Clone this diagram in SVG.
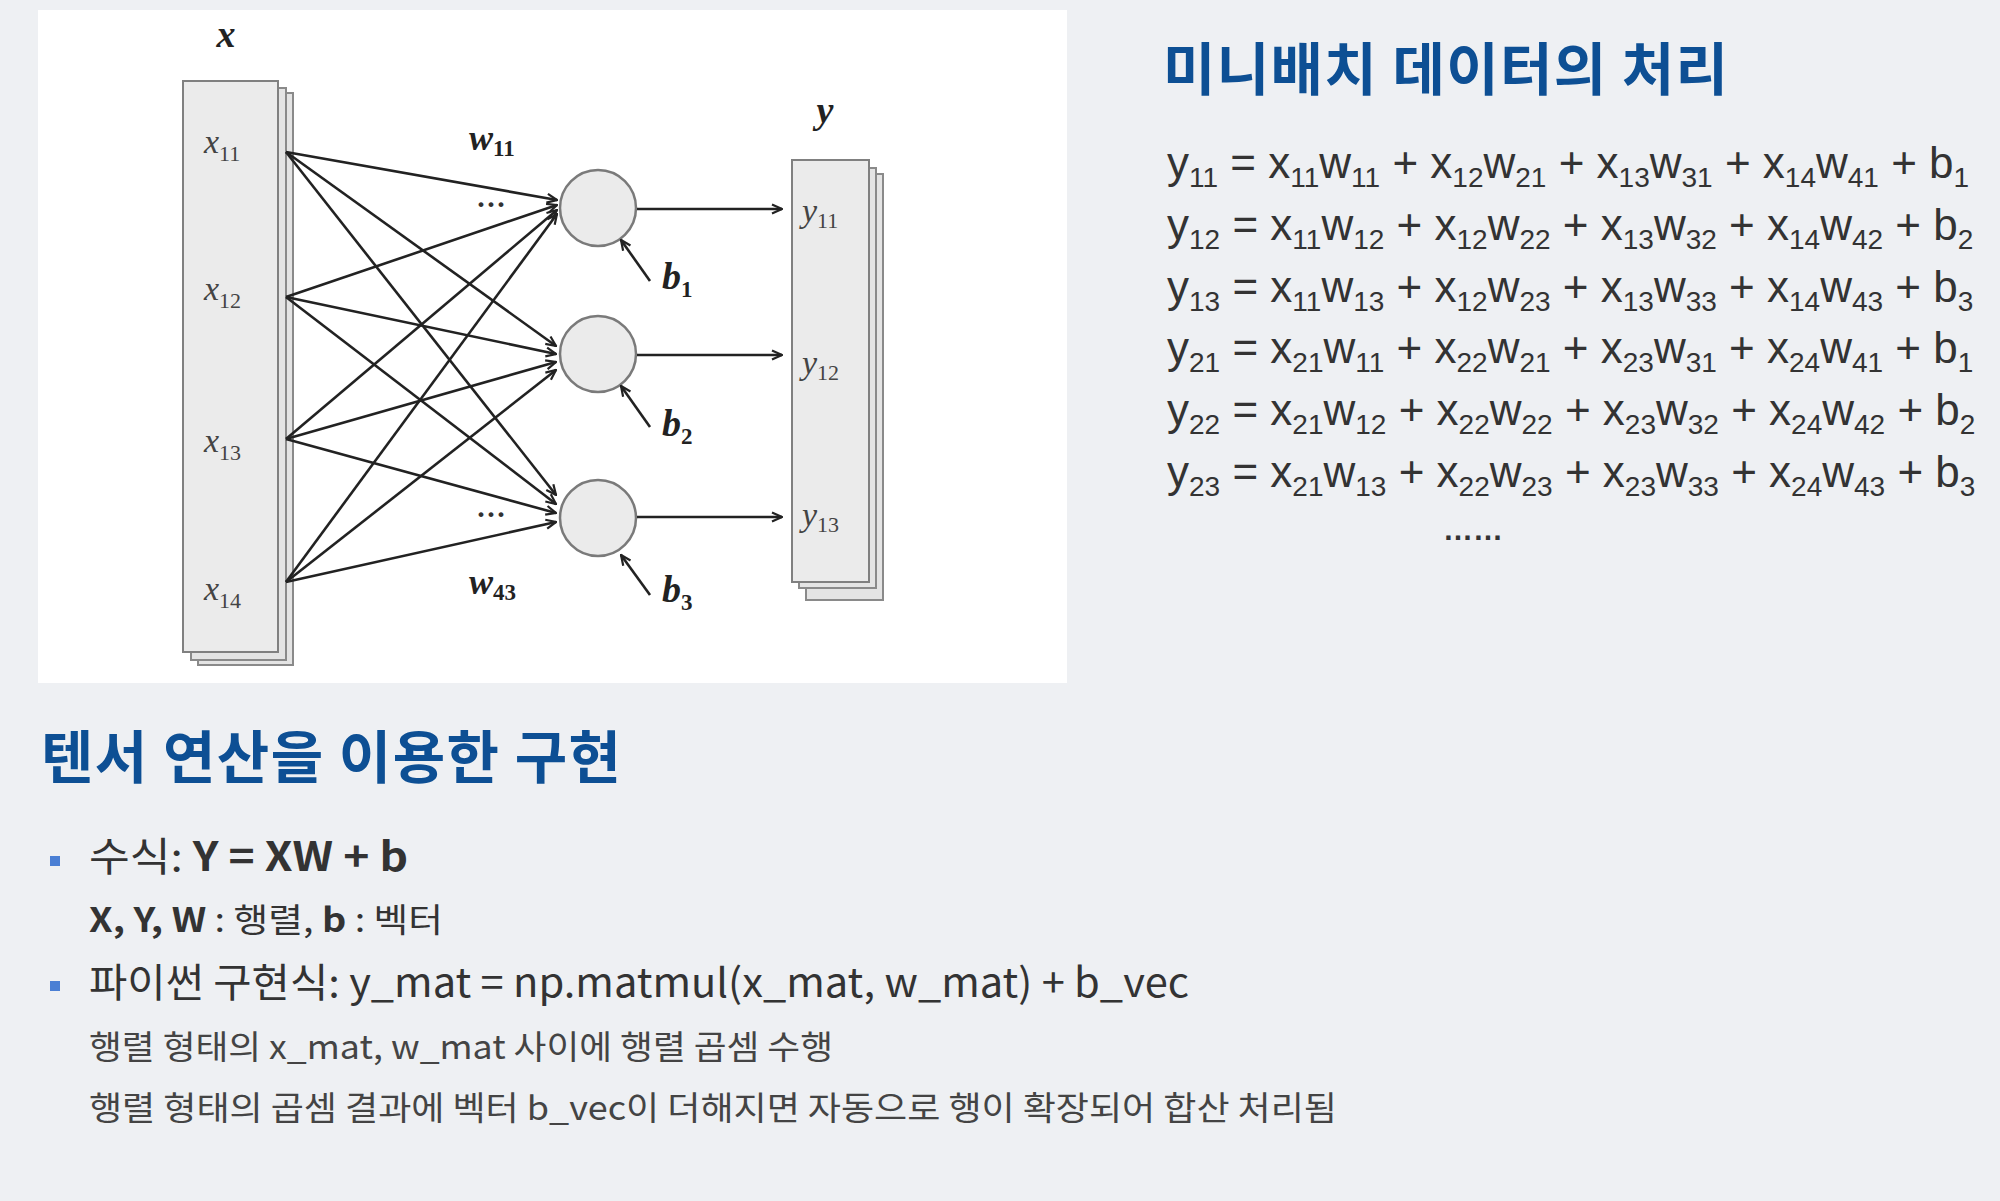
<svg xmlns="http://www.w3.org/2000/svg" width="2000" height="1201" viewBox="0 0 2000 1201">
<style>
.bg{fill:#eef0f3}
.panel{fill:#ffffff}
.box{fill:#ebebeb;stroke:#808080;stroke-width:2}
.box2{fill:#e4e4e4;stroke:#8a8a8a;stroke-width:2}
.node{fill:#ebebeb;stroke:#7a7a7a;stroke-width:2.5}
.edge{stroke:#222;stroke-width:2.6;fill:none;marker-end:url(#arr)}
.lab{font-family:"Liberation Serif",serif;font-style:italic;fill:#444;font-size:34px}
.lsub{font-size:22px;font-style:normal}
.blab{font-family:"Liberation Serif",serif;font-style:italic;font-weight:bold;fill:#222;font-size:38px}
.bsub{font-size:23px;font-style:normal}
.dots{font-family:"Liberation Serif",serif;fill:#333;font-size:30px;font-weight:bold}
.title{font-family:"Noto Sans CJK KR","Noto Sans",sans-serif;font-weight:bold;fill:#0d4f94;font-size:57px}
.eq{font-family:"Liberation Sans",sans-serif;fill:#333;font-size:44px}
.s{font-size:28px}
.txt{font-family:"Noto Sans CJK KR","Noto Sans",sans-serif;fill:#333}
.b{font-weight:bold}
.bul{fill:#4a7fd4}
</style>
<defs>
<marker id="arr" viewBox="0 0 12 12" refX="11" refY="6" markerWidth="12" markerHeight="12" markerUnits="userSpaceOnUse" orient="auto">
<path d="M1,1.5 L11,6 L1,10.5" fill="none" stroke="#222" stroke-width="2.2"/>
</marker>
</defs>
<rect class="bg" x="0" y="0" width="2000" height="1201"/>
<rect class="panel" x="38" y="10" width="1029" height="673"/>

<g id="x-vector">
<rect class="box2" x="198" y="93" width="95" height="572"/>
<rect class="box2" x="191" y="88" width="95" height="572"/>
<rect class="box" x="183" y="81" width="95" height="571"/>
<text class="blab" x="226" y="47" text-anchor="middle">x</text>
<text class="lab" x="204" y="153">x<tspan class="lsub" dy="8">11</tspan></text>
<text class="lab" x="204" y="300">x<tspan class="lsub" dy="8">12</tspan></text>
<text class="lab" x="204" y="452">x<tspan class="lsub" dy="8">13</tspan></text>
<text class="lab" x="204" y="600">x<tspan class="lsub" dy="8">14</tspan></text>
</g>

<g id="node1"><circle class="node" cx="598" cy="208" r="38"/></g>
<g id="node2"><circle class="node" cx="598" cy="354" r="38"/></g>
<g id="node3"><circle class="node" cx="598" cy="518" r="38"/></g>

<g id="y-vector">
<rect class="box2" x="806" y="174" width="77" height="426"/>
<rect class="box2" x="799" y="168" width="77" height="420"/>
<rect class="box" x="792" y="160" width="77" height="422"/>
<text class="blab" x="825" y="123" text-anchor="middle">y</text>
<text class="lab" x="802" y="222">y<tspan class="lsub" dy="6">11</tspan></text>
<text class="lab" x="802" y="374">y<tspan class="lsub" dy="6">12</tspan></text>
<text class="lab" x="802" y="526">y<tspan class="lsub" dy="6">13</tspan></text>
</g>

<g id="labels">
<text class="blab" x="469" y="150" style="font-size:36px">w<tspan class="bsub" dy="6">11</tspan></text>
<text class="dots" x="491" y="214" text-anchor="middle">···</text>
<text class="dots" x="491" y="524" text-anchor="middle">···</text>
<text class="blab" x="469" y="594" style="font-size:36px">w<tspan class="bsub" dy="6">43</tspan></text>
<text class="blab" x="662" y="289">b<tspan class="bsub" dy="8">1</tspan></text>
<text class="blab" x="662" y="436">b<tspan class="bsub" dy="8">2</tspan></text>
<text class="blab" x="662" y="602">b<tspan class="bsub" dy="8">3</tspan></text>
</g>

<g id="connectors">
<line class="edge" x1="286" y1="152" x2="557" y2="200"/>
<line class="edge" x1="286" y1="297" x2="557" y2="205"/>
<line class="edge" x1="286" y1="439" x2="557" y2="210"/>
<line class="edge" x1="286" y1="582" x2="557" y2="214"/>
<line class="edge" x1="286" y1="152" x2="556" y2="346"/>
<line class="edge" x1="286" y1="297" x2="556" y2="354"/>
<line class="edge" x1="286" y1="439" x2="556" y2="362"/>
<line class="edge" x1="286" y1="582" x2="556" y2="370"/>
<line class="edge" x1="286" y1="152" x2="556" y2="495"/>
<line class="edge" x1="286" y1="297" x2="556" y2="504"/>
<line class="edge" x1="286" y1="439" x2="556" y2="513"/>
<line class="edge" x1="286" y1="582" x2="556" y2="522"/>
<line class="edge" x1="637" y1="209" x2="782" y2="209"/>
<line class="edge" x1="637" y1="355" x2="782" y2="355"/>
<line class="edge" x1="637" y1="517" x2="782" y2="517"/>
<line class="edge" x1="650" y1="281" x2="621" y2="240"/>
<line class="edge" x1="650" y1="427" x2="621" y2="386"/>
<line class="edge" x1="650" y1="595" x2="621" y2="555"/>
</g>

<g id="minibatch">
<text class="title" x="1163" y="90" textLength="565">미니배치 데이터의 처리</text>
<text class="eq" x="1167" y="178">y<tspan class="s" dy="9">11</tspan><tspan dy="-9"> = x</tspan><tspan class="s" dy="9">11</tspan><tspan dy="-9">w</tspan><tspan class="s" dy="9">11</tspan><tspan dy="-9"> + x</tspan><tspan class="s" dy="9">12</tspan><tspan dy="-9">w</tspan><tspan class="s" dy="9">21</tspan><tspan dy="-9"> + x</tspan><tspan class="s" dy="9">13</tspan><tspan dy="-9">w</tspan><tspan class="s" dy="9">31</tspan><tspan dy="-9"> + x</tspan><tspan class="s" dy="9">14</tspan><tspan dy="-9">w</tspan><tspan class="s" dy="9">41</tspan><tspan dy="-9"> + b</tspan><tspan class="s" dy="9">1</tspan></text>
<text class="eq" x="1167" y="240">y<tspan class="s" dy="9">12</tspan><tspan dy="-9"> = x</tspan><tspan class="s" dy="9">11</tspan><tspan dy="-9">w</tspan><tspan class="s" dy="9">12</tspan><tspan dy="-9"> + x</tspan><tspan class="s" dy="9">12</tspan><tspan dy="-9">w</tspan><tspan class="s" dy="9">22</tspan><tspan dy="-9"> + x</tspan><tspan class="s" dy="9">13</tspan><tspan dy="-9">w</tspan><tspan class="s" dy="9">32</tspan><tspan dy="-9"> + x</tspan><tspan class="s" dy="9">14</tspan><tspan dy="-9">w</tspan><tspan class="s" dy="9">42</tspan><tspan dy="-9"> + b</tspan><tspan class="s" dy="9">2</tspan></text>
<text class="eq" x="1167" y="302">y<tspan class="s" dy="9">13</tspan><tspan dy="-9"> = x</tspan><tspan class="s" dy="9">11</tspan><tspan dy="-9">w</tspan><tspan class="s" dy="9">13</tspan><tspan dy="-9"> + x</tspan><tspan class="s" dy="9">12</tspan><tspan dy="-9">w</tspan><tspan class="s" dy="9">23</tspan><tspan dy="-9"> + x</tspan><tspan class="s" dy="9">13</tspan><tspan dy="-9">w</tspan><tspan class="s" dy="9">33</tspan><tspan dy="-9"> + x</tspan><tspan class="s" dy="9">14</tspan><tspan dy="-9">w</tspan><tspan class="s" dy="9">43</tspan><tspan dy="-9"> + b</tspan><tspan class="s" dy="9">3</tspan></text>
<text class="eq" x="1167" y="363">y<tspan class="s" dy="9">21</tspan><tspan dy="-9"> = x</tspan><tspan class="s" dy="9">21</tspan><tspan dy="-9">w</tspan><tspan class="s" dy="9">11</tspan><tspan dy="-9"> + x</tspan><tspan class="s" dy="9">22</tspan><tspan dy="-9">w</tspan><tspan class="s" dy="9">21</tspan><tspan dy="-9"> + x</tspan><tspan class="s" dy="9">23</tspan><tspan dy="-9">w</tspan><tspan class="s" dy="9">31</tspan><tspan dy="-9"> + x</tspan><tspan class="s" dy="9">24</tspan><tspan dy="-9">w</tspan><tspan class="s" dy="9">41</tspan><tspan dy="-9"> + b</tspan><tspan class="s" dy="9">1</tspan></text>
<text class="eq" x="1167" y="425">y<tspan class="s" dy="9">22</tspan><tspan dy="-9"> = x</tspan><tspan class="s" dy="9">21</tspan><tspan dy="-9">w</tspan><tspan class="s" dy="9">12</tspan><tspan dy="-9"> + x</tspan><tspan class="s" dy="9">22</tspan><tspan dy="-9">w</tspan><tspan class="s" dy="9">22</tspan><tspan dy="-9"> + x</tspan><tspan class="s" dy="9">23</tspan><tspan dy="-9">w</tspan><tspan class="s" dy="9">32</tspan><tspan dy="-9"> + x</tspan><tspan class="s" dy="9">24</tspan><tspan dy="-9">w</tspan><tspan class="s" dy="9">42</tspan><tspan dy="-9"> + b</tspan><tspan class="s" dy="9">2</tspan></text>
<text class="eq" x="1167" y="487">y<tspan class="s" dy="9">23</tspan><tspan dy="-9"> = x</tspan><tspan class="s" dy="9">21</tspan><tspan dy="-9">w</tspan><tspan class="s" dy="9">13</tspan><tspan dy="-9"> + x</tspan><tspan class="s" dy="9">22</tspan><tspan dy="-9">w</tspan><tspan class="s" dy="9">23</tspan><tspan dy="-9"> + x</tspan><tspan class="s" dy="9">23</tspan><tspan dy="-9">w</tspan><tspan class="s" dy="9">33</tspan><tspan dy="-9"> + x</tspan><tspan class="s" dy="9">24</tspan><tspan dy="-9">w</tspan><tspan class="s" dy="9">43</tspan><tspan dy="-9"> + b</tspan><tspan class="s" dy="9">3</tspan></text>
<text class="eq" x="1473" y="540" text-anchor="middle" style="font-size:30px;font-weight:bold">……</text>
</g>

<g id="tensor">
<text class="title" x="41" y="778" textLength="580">텐서 연산을 이용한 구현</text>
<rect class="bul" x="50" y="856" width="10" height="10"/>
<text class="txt" x="89" y="871" style="font-size:40px" textLength="319" lengthAdjust="spacingAndGlyphs">수식: <tspan class="b">Y = XW + b</tspan></text>
<text class="txt" x="89" y="932" style="font-size:33px" textLength="354" lengthAdjust="spacingAndGlyphs"><tspan class="b">X, Y, W</tspan> : 행렬, <tspan class="b">b</tspan> : 벡터</text>
<rect class="bul" x="50" y="981" width="10" height="10"/>
<text class="txt" x="89" y="997" style="font-size:40px" textLength="1100" lengthAdjust="spacingAndGlyphs">파이썬 구현식: y_mat = np.matmul(x_mat, w_mat) + b_vec</text>
<text class="txt" x="89" y="1059" style="font-size:33px;fill:#444" textLength="744" lengthAdjust="spacingAndGlyphs">행렬 형태의 x_mat, w_mat 사이에 행렬 곱셈 수행</text>
<text class="txt" x="89" y="1120" style="font-size:33px;fill:#444" textLength="1248" lengthAdjust="spacingAndGlyphs">행렬 형태의 곱셈 결과에 벡터 b_vec이 더해지면 자동으로 행이 확장되어 합산 처리됨</text>
</g>
</svg>
